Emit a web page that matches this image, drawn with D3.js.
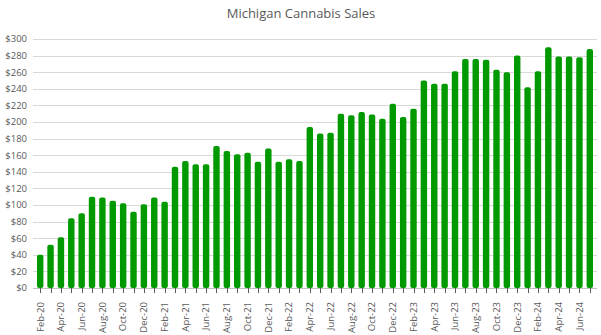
<!DOCTYPE html>
<html><head><meta charset="utf-8">
<script src="https://cdn.jsdelivr.net/npm/d3@7"></script>
<style>
html,body{margin:0;padding:0;background:#fff;}
svg{display:block;font-family:"Open Sans","Liberation Sans",sans-serif;}
</style></head>
<body><svg id="chart" width="601" height="335"></svg>
<script>
const months = ["Feb-20","Mar-20","Apr-20","May-20","Jun-20","Jul-20","Aug-20","Sep-20","Oct-20","Nov-20","Dec-20",
"Jan-21","Feb-21","Mar-21","Apr-21","May-21","Jun-21","Jul-21","Aug-21","Sep-21","Oct-21","Nov-21","Dec-21",
"Jan-22","Feb-22","Mar-22","Apr-22","May-22","Jun-22","Jul-22","Aug-22","Sep-22","Oct-22","Nov-22","Dec-22",
"Jan-23","Feb-23","Mar-23","Apr-23","May-23","Jun-23","Jul-23","Aug-23","Sep-23","Oct-23","Nov-23","Dec-23",
"Jan-24","Feb-24","Mar-24","Apr-24","May-24","Jun-24","Jul-24"];
const sales = [40,52,61,84,90,110,109,105,102,92,101,
109,104,146,153,149,149,171,165,161,163,152,168,
152,155,153,194,186,187,210,208,212,209,204,222,
206,216,250,246,246,261,276,276,275,263,260,280,
242,261,290,279,279,278,288];
const yTicks = [0,20,40,60,80,100,120,140,160,180,200,220,240,260,280,300];
const title = "Michigan Cannabis Sales";

const svg = d3.select("#chart");
const x = d3.scaleBand().domain(months).range([35, 595]).paddingInner(0.38).paddingOuter(0.19);
const y = d3.scaleLinear().domain([0, 300]).range([288, 39]);

// gridlines
svg.append("g").selectAll("line").data(yTicks.filter(d => d > 0)).join("line")
  .attr("x1", 33).attr("x2", 597)
  .attr("y1", d => Math.round(y(d)) + 0.5).attr("y2", d => Math.round(y(d)) + 0.5)
  .attr("stroke", "#d9d9d9").attr("stroke-width", 1);

// y labels
svg.append("g").selectAll("text").data(yTicks).join("text")
  .attr("x", 27).attr("y", d => y(d)).attr("dy", "0.35em")
  .attr("text-anchor", "end").attr("font-size", 9.5).attr("fill", "#595959")
  .text(d => "$" + d);

// bars
svg.append("g").selectAll("rect").data(months).join("rect")
  .attr("x", d => x(d)).attr("width", x.bandwidth())
  .attr("y", (d, i) => y(sales[i])).attr("height", (d, i) => y(0) - y(sales[i]))
  .attr("rx", 2).attr("fill", "#009a00");

// x axis
const xa = svg.append("g").attr("transform", "translate(0,288)");
xa.append("line").attr("x1", 33).attr("x2", 597).attr("y1", 0.5).attr("y2", 0.5).attr("stroke", "#bfbfbf");
xa.selectAll("line.tick").data(months).join("line").attr("class", "tick")
  .attr("x1", d => Math.round(x(d) + x.bandwidth() / 2) + 0.5)
  .attr("x2", d => Math.round(x(d) + x.bandwidth() / 2) + 0.5)
  .attr("y1", 0).attr("y2", 5).attr("stroke", "#595959");
xa.selectAll("text").data(months.filter((d, i) => i % 2 === 0)).join("text")
  .attr("transform", d => `translate(${x(d) + x.bandwidth() / 2},14) rotate(-90)`)
  .attr("text-anchor", "end").attr("dy", "0.35em")
  .attr("font-size", 9.5).attr("fill", "#595959")
  .text(d => d);

// title
svg.append("text").attr("x", 301).attr("y", 18).attr("text-anchor", "middle")
  .attr("font-size", 13).attr("fill", "#595959").text(title);
</script></body></html>
